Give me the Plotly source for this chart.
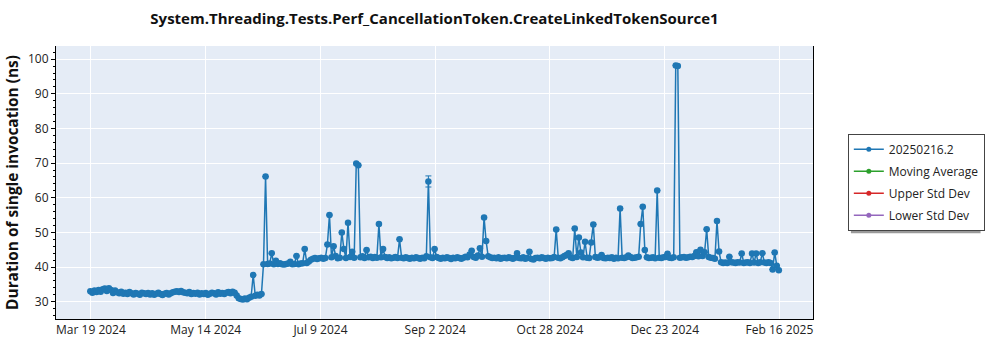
import plotly.graph_objects as go
import pandas as pd

chart_title = "System.Threading.Tests.Perf_CancellationToken.CreateLinkedTokenSource1"
y_title = "Duration of single invocation (ns)"
series_name = "20250216.2"
start_date = "2024-03-19 12:00"

# one value per day, starting at start_date (ns)
durations = [
    33.0, 32.6, 33.2, 32.8, 33.4, 32.9, 33.6, 33.8, 33.1, 33.9, 33.4, 32.5, 33.2, 32.7,
    32.4, 32.9, 32.3, 32.6, 32.2, 32.8, 32.4, 32.1, 32.5, 32.3, 32.0, 32.6, 32.4, 32.2,
    32.5, 32.1, 32.4, 32.0, 32.3, 32.6, 32.2, 31.9, 32.3, 32.5, 32.1, 32.4, 32.7, 32.9,
    33.0, 32.8, 33.1, 32.7, 32.6, 32.4, 32.8, 32.2, 32.5, 32.3, 32.6, 32.1, 32.4, 32.2,
    32.5, 32.0, 32.3, 32.6, 32.4, 32.1, 32.7, 32.3, 32.5, 32.2, 32.6, 32.8, 32.4, 32.9,
    32.6, 31.8, 31.0, 30.8, 30.6, 30.9, 30.7, 31.1, 31.4, 37.7, 31.7, 32.0, 31.8, 32.2,
    40.8, 66.1, 40.9, 41.0, 44.0, 40.8, 41.8, 40.9, 41.1, 40.8, 40.7, 40.9, 41.0, 41.5,
    40.8, 40.9, 43.2, 40.8, 41.0, 41.1, 45.2, 41.2, 41.6, 42.1, 42.4, 42.6, 42.3, 42.5,
    42.7, 42.4, 42.6, 46.5, 55.0, 42.8, 46.0, 43.2, 42.5, 42.7, 50.0, 45.2, 42.6, 52.8,
    42.9, 44.4, 42.7, 69.9, 69.4, 42.8, 43.1, 42.6, 44.9, 42.8, 43.0, 42.6, 42.9, 42.7,
    52.4, 42.8, 45.2, 42.9, 42.6, 42.8, 42.5, 42.7, 42.9, 42.6, 48.0, 42.7, 42.5, 42.8,
    42.6, 42.4, 42.7, 42.5, 42.8, 42.6, 42.4, 42.7, 42.5, 43.1, 64.7, 42.8, 42.6, 45.2,
    42.9, 42.6, 42.4, 42.7, 42.5, 42.8, 42.6, 42.3, 42.7, 42.5, 42.8, 42.6, 42.4, 42.7,
    43.0, 42.8, 43.6, 44.7, 42.9, 42.7, 43.3, 45.4, 43.0, 54.3, 47.5, 43.1, 42.8, 42.6,
    42.7, 42.5, 42.8, 42.4, 42.6, 42.7, 42.5, 42.8, 42.6, 42.4, 42.7, 44.0, 42.6, 42.5,
    42.8, 42.4, 42.6, 44.4, 42.3, 42.2, 42.6, 42.7, 42.5, 42.8, 42.6, 42.4, 42.7, 42.5,
    42.6, 42.9, 50.8, 42.7, 42.5, 42.8, 43.2, 43.5, 44.0, 42.8, 42.6, 51.1, 42.9, 48.5,
    44.2, 42.8, 47.3, 42.7, 42.6, 47.1, 52.3, 42.9, 42.7, 42.8, 43.5, 42.6, 42.5, 42.7,
    42.6, 42.8, 42.4, 42.7, 42.5, 56.9, 42.7, 42.6, 42.8, 43.3, 42.9, 42.6, 42.7, 42.8,
    43.0, 52.4, 57.4, 44.9, 42.8, 42.6, 42.7, 42.8, 42.5, 62.1, 42.7, 42.6, 42.8, 42.9,
    43.8, 42.7, 42.6, 42.8, 98.2, 98.0, 42.7, 42.8, 42.9, 42.7, 42.8, 43.0, 42.9, 43.2,
    44.3, 43.1, 45.0, 43.2, 44.3, 50.9, 42.9, 42.7, 42.6, 42.4, 53.3, 44.5, 41.4, 41.2,
    41.3, 41.2, 43.0, 41.4, 41.3, 41.2, 41.4, 41.3, 43.9, 41.2, 41.3, 41.4, 41.2, 43.9,
    41.3, 43.9, 41.2, 41.4, 44.0, 41.3, 41.2, 41.4, 41.2, 39.3, 44.2, 40.4, 39.1,
]

error_dates = ["2024-08-30 12:00"]
error_values = [1.6]

legend_names = ["Moving Average", "Upper Std Dev", "Lower Std Dev"]
legend_colors = ["#2ca02c", "#d62728", "#9467bd"]

tick_labels = ["Mar 19 2024", "May 14 2024", "Jul 9 2024", "Sep 2 2024",
               "Oct 28 2024", "Dec 23 2024", "Feb 16 2025"]
tick_start = "2024-03-19 19:12"
tick_step_hours = 55 * 24 + 16

dates = pd.date_range(start_date, periods=len(durations), freq="D")
err_lookup = dict(zip(pd.to_datetime(error_dates), error_values))
errors = [err_lookup.get(d, None) for d in dates]
tick_vals = pd.date_range(tick_start, periods=len(tick_labels), freq="%dh" % tick_step_hours)

FONT = "Open Sans, Noto Sans, sans-serif"
BLUE = "#1f77b4"

fig = go.Figure()
fig.add_trace(go.Scatter(
    x=dates, y=durations, name=series_name, mode="lines+markers",
    line=dict(color=BLUE, width=1.5),
    marker=dict(color=BLUE, size=6.5),
    error_y=dict(type="data", array=errors, visible=True, color=BLUE,
                 thickness=1, width=3),
    showlegend=False,
))
for i, (nm, col) in enumerate(zip([series_name] + legend_names, [BLUE] + legend_colors)):
    fig.add_trace(go.Scatter(
        x=[None], y=[None], name=nm, mode="lines+markers",
        line=dict(color=col, width=1.5), marker=dict(color=col, size=5),
        legendgroup="g%d" % i,
    ))

fig.update_layout(
    width=1000, height=350,
    template="plotly",
    paper_bgcolor="white", plot_bgcolor="#E5ECF6",
    margin=dict(l=54, r=187, t=46, b=30),
    font=dict(family=FONT, size=12, color="#222"),
    title=dict(text="<b>%s</b>" % chart_title, x=0.5, xref="paper",
               y=1 - 19 / 350, yref="container", yanchor="middle", xanchor="center",
               font=dict(family=FONT, size=15, color="#111")),
    showlegend=True,
    legend=dict(x=1.046, xanchor="left", y=(320 - 134) / 274, yanchor="top",
                bgcolor="white", bordercolor="#444", borderwidth=1,
                font=dict(family=FONT, size=12, color="#222"),
                traceorder="grouped", tracegroupgap=3),
)
fig.update_xaxes(
    type="date",
    range=["2024-03-02 20:00", "2025-03-05 02:00"],
    tickvals=tick_vals, ticktext=tick_labels,
    showgrid=True, gridcolor="white", gridwidth=1,
    showline=True, linecolor="black", linewidth=1, mirror=False,
    ticks="", zeroline=False,
    tickfont=dict(family=FONT, size=12, color="#222"),
)
fig.update_yaxes(
    range=[25, 103.8], dtick=10,
    showgrid=True, gridcolor="white", gridwidth=1,
    showline=True, linecolor="black", linewidth=1, mirror=True,
    ticks="outside", ticklen=4, tickcolor="black",
    minor=dict(ticks="outside", ticklen=2, dtick=2, tickcolor="black", showgrid=False),
    zeroline=False,
    title=dict(text="<b>%s</b>" % y_title, standoff=5,
               font=dict(family=FONT, size=15.4, color="#111")),
    tickfont=dict(family=FONT, size=12, color="#222"),
)

# legend drop shadow
px2x = lambda px: (px - 54) / (1000 - 54 - 187)
px2y = lambda py: (350 - 30 - py) / (350 - 46 - 30)
fig.add_shape(type="rect", xref="paper", yref="paper",
              x0=px2x(851), x1=px2x(981), y0=px2y(234), y1=px2y(137),
              fillcolor="#9a9a9a", line=dict(width=0), layer="above")

fig.write_html("out.html")
